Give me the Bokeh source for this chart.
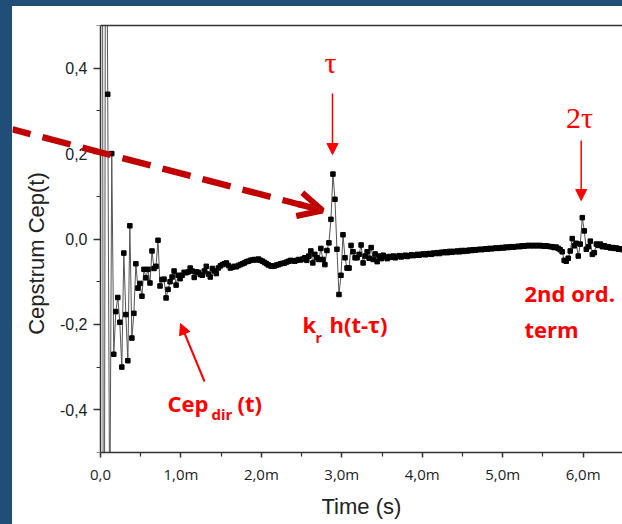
import numpy as np
from bokeh.plotting import figure
from bokeh.models import (Range1d, FixedTicker, CustomJSTickFormatter, LinearAxis,
                          Label, Arrow, NormalHead, OpenHead, ColumnDataSource,
                          PolyAnnotation, Title)
from bokeh.embed import file_html
from bokeh.resources import INLINE

# ---- data (time in ms, cepstrum values) ----
T0_MS = 0.015
DT_MS = 0.025
cep = [
    2.5, -1.8, 1.2, 0.339, -0.70, 0.20, -0.27, -0.17, -0.137, -0.195,
    -0.30, -0.033, -0.177, -0.285, 0.031, -0.232, -0.174, -0.058, -0.115, -0.104,
    -0.134, -0.071, -0.091, -0.071, -0.103, -0.028, -0.069, -0.064, -0.003, -0.11,
    -0.095, -0.094, -0.138, -0.118, -0.10, -0.089, -0.075, -0.108, -0.085, -0.093,
    -0.085, -0.078, -0.079, -0.077, -0.068, -0.075, -0.090, -0.077, -0.078, -0.083,
    -0.085, -0.075, -0.064, -0.082, -0.089, -0.069, -0.075, -0.081, -0.068, -0.063,
    -0.060, -0.058, -0.056, -0.062, -0.068, -0.066, -0.064, -0.065, -0.062, -0.060,
    -0.058, -0.056, -0.053, -0.052, -0.050, -0.049, -0.048, -0.049, -0.047, -0.050,
    -0.052, -0.055, -0.058, -0.061, -0.063, -0.064, -0.063, -0.061, -0.060, -0.058,
    -0.057, -0.056, -0.054, -0.052, -0.050, -0.051, -0.052, -0.050, -0.048, -0.049,
    -0.047, -0.044, -0.050, -0.040, -0.028, -0.056, -0.036, -0.044, -0.048, -0.022,
    -0.048, -0.060, -0.027, -0.009, 0.046, 0.152, 0.093, -0.024, -0.130, -0.085,
    0.010, -0.044, -0.068, -0.068, -0.015, -0.030, -0.044, -0.044, -0.036, -0.014,
    -0.056, -0.040, -0.030, -0.045, -0.020, -0.048, -0.035, -0.053, -0.040, -0.046,
    -0.038, -0.042, -0.046, -0.041, -0.043, -0.040, -0.044, -0.041, -0.039, -0.042,
    -0.040, -0.038, -0.041, -0.039, -0.037, -0.039, -0.038, -0.036, -0.038, -0.036,
    -0.035, -0.037, -0.035, -0.034, -0.036, -0.033, -0.034, -0.032, -0.034, -0.031,
    -0.032, -0.030, -0.032, -0.029, -0.031, -0.029, -0.030, -0.028, -0.030, -0.027,
    -0.029, -0.027, -0.028, -0.026, -0.027, -0.025, -0.026, -0.025, -0.024, -0.025,
    -0.024, -0.023, -0.024, -0.022, -0.023, -0.022, -0.021, -0.022, -0.021, -0.020,
    -0.021, -0.019, -0.020, -0.019, -0.018, -0.019, -0.018, -0.017, -0.018, -0.016,
    -0.017, -0.016, -0.015, -0.016, -0.015, -0.016, -0.015, -0.016, -0.015, -0.016,
    -0.017, -0.016, -0.017, -0.018, -0.018, -0.020, -0.019, -0.022, -0.025, -0.030,
    -0.050, -0.052, -0.045, -0.028, 0.001, -0.016, -0.010, -0.040, -0.012, 0.050,
    0.019, -0.024, -0.018, -0.005, -0.036, -0.032, -0.012, -0.015, -0.012, -0.018,
    -0.016, -0.019, -0.018, -0.021, -0.020, -0.022, -0.021, -0.024, -0.023, -0.025,
    -0.026,
]
t_ms = T0_MS + DT_MS * np.arange(len(cep))

y_ticks = [-0.4, -0.2, 0.0, 0.2, 0.4]
y_minor = [-0.5, -0.3, -0.1, 0.1, 0.3, 0.5]
x_ticks = [0, 1, 2, 3, 4, 5, 6]
x_minor = [0.5, 1.5, 2.5, 3.5, 4.5, 5.5, 6.5]

RED = "#ff0000"
DARKRED = "#c00000"

# layout (page offset 12,6 via body border); the frame covers the whole width,
# the y axis is placed at t = 0 so that annotations may cross the axis area.
PAD_L, PAD_T = 12, 6
W, H = 610, 518
AXL = 88                       # y axis position in figure px
FT, FB = 19, 72                # frame top / bottom borders
XMAX = 6.49
XPX = (W - AXL) / XMAX         # px per ms
XMIN = -AXL / XPX
FH = H - FT - FB

def px2x(px):   # page px -> data x
    return (px - PAD_L - AXL) / XPX

def py2y(py):   # page px -> data y
    return 0.5 - (py - PAD_T - FT) / FH

p = figure(width=W, height=H, output_backend="svg", toolbar_location=None,
           x_range=Range1d(XMIN, XMAX), y_range=Range1d(-0.5, 0.5),
           min_border_left=0, min_border_right=0, min_border_top=FT,
           min_border_bottom=FB)
p.grid.visible = False
p.outline_line_color = None
p.background_fill_color = "white"
p.border_fill_color = "white"

src = ColumnDataSource(dict(t=t_ms, c=cep))
p.line("t", "c", source=src, line_color="#555555", line_width=1)
p.scatter("t", "c", source=src, marker="square", size=4.5,
          fill_color="black", line_color="black")

# axes
ax_y = p.yaxis[0]
ax_y.fixed_location = 0
ax_y.ticker = FixedTicker(ticks=y_ticks, minor_ticks=y_minor)
ax_y.formatter = CustomJSTickFormatter(code="return tick.toFixed(1).replace('.', ',');")
ax_y.major_label_standoff = 6

ax_x = p.xaxis[0]
ax_x.bounds = (0.0, XMAX)
ax_x.ticker = FixedTicker(ticks=x_ticks, minor_ticks=x_minor)
ax_x.formatter = CustomJSTickFormatter(
    code="return tick == 0 ? '0,0' : tick.toFixed(1).replace('.', ',') + 'm';")
ax_x.major_label_standoff = 6

for ax in (ax_x, ax_y):
    ax.axis_line_color = "#333333"
    ax.axis_line_width = 1.5
    ax.major_tick_line_color = "#333333"
    ax.minor_tick_line_color = "#333333"
    ax.major_tick_line_width = 1.5
    ax.minor_tick_line_width = 1.2
    ax.major_tick_in = 0
    ax.major_tick_out = 7
    ax.minor_tick_in = 0
    ax.minor_tick_out = 4
    ax.major_label_text_color = "#222222"
ax_y.major_label_text_font = "Liberation Sans"
ax_y.major_label_text_font_size = "16px"
ax_x.major_label_text_font = "Open Sans"
ax_x.major_label_text_font_size = "15px"
ax_x.major_tick_out = 5
ax_x.minor_tick_out = 4

top = LinearAxis(ticker=FixedTicker(ticks=[], minor_ticks=[]), bounds=(0.0, XMAX),
                 axis_line_color="#333333", axis_line_width=1.5,
                 major_tick_line_color=None, minor_tick_line_color=None,
                 major_label_standoff=0)
p.add_layout(top, "above")

# x axis title, left-aligned so that it sits centred under the drawn axis
x_title = Title(text="Time (s)", align="left", offset=(321 - PAD_L),
                text_font="Liberation Sans", text_font_size="22px",
                text_font_style="normal", text_color="#222222", standoff=10)
p.add_layout(x_title, "below")

TXT_DY = 10   # compensate for label baseline placement

# y axis title (placed as in the reference, slightly below the axis centre)
p.add_layout(Label(x=px2x(36), y=py2y(253), text="Cepstrum Cep(t)", angle=np.pi / 2,
                   text_font="Liberation Sans", text_font_size="22px",
                   text_color="#222222", text_align="center", text_baseline="middle"))

# annotations
def lab(px, py, text, size, font="Open Sans", style="bold", align="left"):
    p.add_layout(Label(x=px2x(px), y=py2y(py - TXT_DY), text=text, text_font=font,
                       text_font_size=size, text_font_style=style, text_color=RED,
                       text_align=align, text_baseline="alphabetic"))

lab(330, 72, "τ", "30px", font="Liberation Serif", style="normal", align="center")
lab(579, 127, "2τ", "30px", font="Liberation Serif", style="normal", align="center")
lab(167, 412, "Cep", "22px")
lab(211, 423, "dir", "15px")
lab(237, 412, "(t)", "22px")
lab(302, 333, "k", "22px")
lab(315, 347, "r", "14px")
lab(329, 333, "h(t-τ)", "22px")
lab(524, 302, "2nd ord.", "22px")
lab(524, 338, "term", "22px")

def red_arrow(x0, y0, x1, y1, w):
    p.add_layout(Arrow(x_start=px2x(x0), y_start=py2y(y0), x_end=px2x(x1), y_end=py2y(y1),
                       line_color=RED, line_width=w,
                       end=NormalHead(size=11, fill_color=RED, line_color=RED, line_width=1)))

red_arrow(332, 93, 332, 154, 1.5)
red_arrow(580.7, 140, 580.7, 200, 1.5)
red_arrow(204, 381, 180, 323, 2)

# big dashed dark-red arrow
SX, SY, EX, EY = 5.0, 127.0, 322.0, 210.0
slope = (EY - SY) / (EX - SX)
dlen = np.hypot(EX - SX, EY - SY)
nx, ny = -(EY - SY) / dlen * 3.2, (EX - SX) / dlen * 3.2
dash_starts = [12, 42, 82, 122, 162, 202, 242, 282]
dash_ends = [30, 70, 110, 150, 190, 230, 270, 302]
for a, b in zip(dash_starts, dash_ends):
    ya = SY + (a - SX) * slope
    yb = SY + (b - SX) * slope
    xs = [px2x(a + nx), px2x(b + nx), px2x(b - nx), px2x(a - nx)]
    ys = [py2y(ya + ny), py2y(yb + ny), py2y(yb - ny), py2y(ya - ny)]
    p.add_layout(PolyAnnotation(xs=xs, ys=ys, fill_color=DARKRED, fill_alpha=1.0,
                                line_color=None))
p.add_layout(Arrow(x_start=px2x(298), y_start=py2y(SY + (298 - SX) * slope),
                   x_end=px2x(EX), y_end=py2y(EY),
                   line_color=DARKRED, line_width=6.4,
                   end=OpenHead(size=24, line_color=DARKRED, line_width=6)))

html = file_html(p, INLINE)
css = ("<style>html { background-color: #ffffff !important; }"
       " body { background-color: #ffffff !important; margin: 0 !important;"
       " padding: 0 !important; border-left: 12px solid #1f4e79;"
       " border-top: 6px solid #1f4e79; }</style>")
html = html.replace("</head>", css + "</head>", 1)
open("out.html", "w").write(html)
